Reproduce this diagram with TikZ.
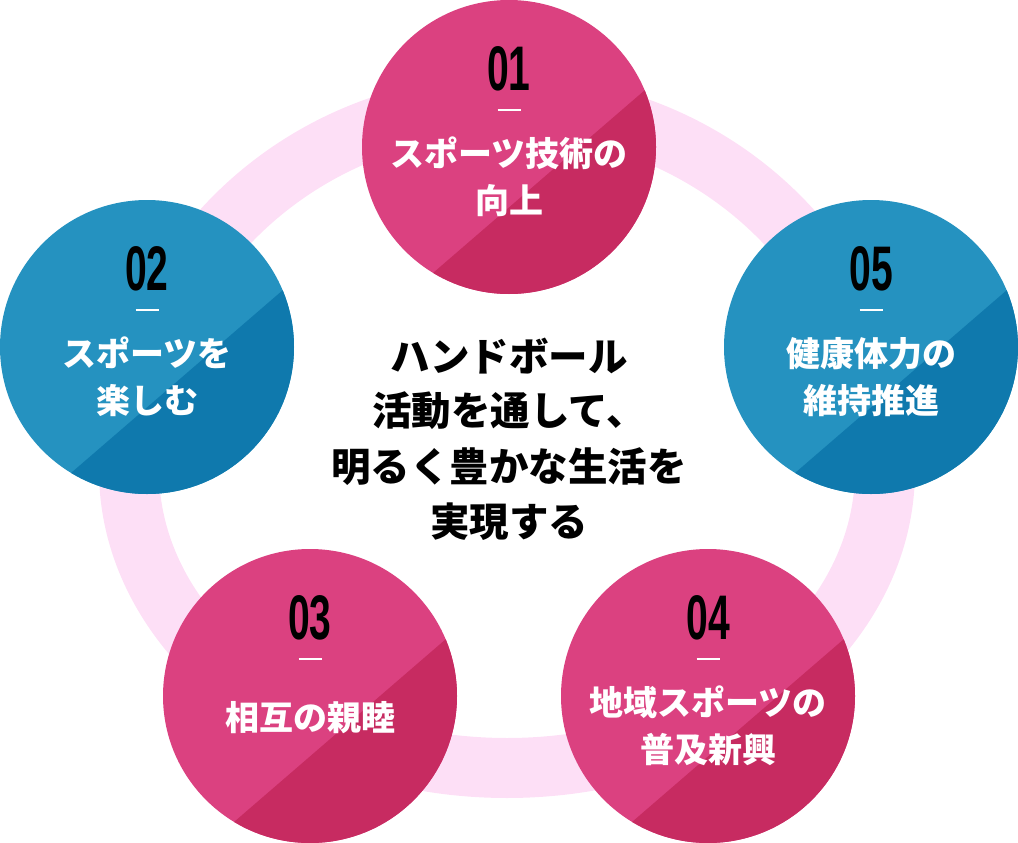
\documentclass[tikz,border=0pt]{standalone}
\usepackage{fontspec}
\newfontfamily\jp{Noto Sans CJK JP}
\newfontfamily\numf{Liberation Sans}
\definecolor{pinkL}{HTML}{DB4180}
\definecolor{pinkD}{HTML}{C72B61}
\definecolor{blueL}{HTML}{2592C0}
\definecolor{blueD}{HTML}{0F79AD}
\definecolor{ringc}{HTML}{FDDFF6}
\tikzset{
  ringline/.style={draw=ringc, line width=60pt},
  bub/.style={circle, minimum size=294, inner sep=0pt, draw=none},
  num/.style={font=\numf\bfseries\fontsize{63}{63}\selectfont, text=black, inner sep=0pt},
  lbl/.style={font=\jp\bfseries\fontsize{34}{47}\selectfont, text=white, inner sep=0pt, anchor=base},
  ctr/.style={font=\jp\bfseries\fontsize{39.5}{55}\selectfont, text=black, inner sep=0pt, anchor=base},
  dashln/.style={draw=white, line width=2pt},
}
\begin{document}
\begin{tikzpicture}[x=1pt,y=-1pt]
\useasboundingbox (0,0) rectangle (1018,843);
% ring
\draw[ringline] (885,470) arc[start angle=0, end angle=180, x radius=378, y radius=298]
  arc[start angle=180, end angle=360, x radius=378, y radius=365] -- cycle;
% bubbles
\foreach \nm/\cx/\cy/\lite/\dark/\nu in {c1/509/147/pinkL/pinkD/01, c2/147/347/blueL/blueD/02, c5/871/347/blueL/blueD/05, c3/310/696/pinkL/pinkD/03, c4/708/696/pinkL/pinkD/04}{
  \node[bub, fill=\lite] (\nm) at (\cx,\cy) {};
  \begin{scope}[shift={(\cx,\cy)}]
    \clip (0,0) circle[radius=147];
    \fill[\dark] (-76,126) -- (136,-57) -- (220,-57) -- (220,220) -- (-76,220) -- cycle;
    \node[num] (\nm-n) at (0,-78) {\scalebox{0.62}[1]{\nu}};
    \coordinate (\nm-dl) at (-11.5,-37);
    \coordinate (\nm-dr) at (11.5,-37);
  \end{scope}
  \draw[dashln] (\nm-dl) -- (\nm-dr);
}
% labels
\node[lbl] (c1-a) at (509,166) {スポーツ技術の};
\node[lbl] (c1-b) at (509,213) {向上};
\node[lbl] (c2-a) at (147,366) {スポーツを};
\node[lbl] (c2-b) at (147,413) {楽しむ};
\node[lbl] (c5-a) at (871,366) {健康体力の};
\node[lbl] (c5-b) at (871,413) {維持推進};
\node[lbl] (c3-a) at (310,730) {相互の親睦};
\node[lbl] (c4-a) at (708,715) {地域スポーツの};
\node[lbl] (c4-b) at (708,762) {普及新興};
% centre text
\node[ctr] (m1) at (509,371) {ハンドボール};
\node[ctr] (m2) at (509,425) {活動を通して、};
\node[ctr] (m3) at (509,481) {明るく豊かな生活を};
\node[ctr] (m4) at (509,536) {実現する};
\end{tikzpicture}
\end{document}
